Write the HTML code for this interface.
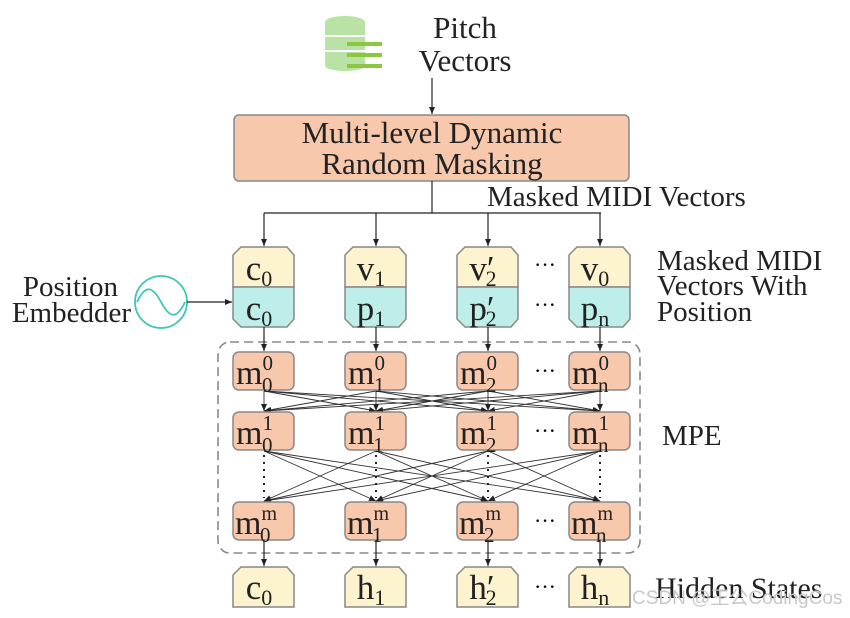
<!DOCTYPE html>
<html><head><meta charset="utf-8"><style>
html,body{margin:0;padding:0;background:#fff;}
svg{display:block;font-family:"Liberation Serif",serif;}
</style></head><body>
<svg width="850" height="618" viewBox="0 0 850 618" xmlns="http://www.w3.org/2000/svg">
<defs>
<marker id="a" markerWidth="8" markerHeight="8" refX="7" refY="4" orient="auto" markerUnits="userSpaceOnUse">
<path d="M0,1 L7,4 L0,7 z" fill="#222"/></marker>
</defs>
<g>
<ellipse cx="345" cy="22" rx="20" ry="6" fill="#b9e3a4"/>
<rect x="325" y="22" width="40" height="44" fill="#b9e3a4"/>
<ellipse cx="345" cy="66" rx="20" ry="5" fill="#b9e3a4"/>
<line x1="325" y1="36" x2="365" y2="36" stroke="#fff" stroke-width="2"/>
<line x1="325" y1="51" x2="365" y2="51" stroke="#fff" stroke-width="2"/>
<rect x="347" y="42" width="35" height="4" fill="#8dc63f"/>
<rect x="347" y="53" width="35" height="4" fill="#8dc63f"/>
<rect x="347" y="64" width="35" height="4" fill="#8dc63f"/>
</g>
<text x="465" y="38" font-size="31" text-anchor="middle" fill="#222">Pitch</text>
<text x="465" y="71" font-size="31" text-anchor="middle" fill="#222">Vectors</text>
<line x1="432" y1="78" x2="432" y2="114" stroke="#222" stroke-width="1.2" marker-end="url(#a)"/>
<rect x="234" y="115" width="395" height="66" rx="5" fill="#f8c8ad" stroke="#888" stroke-width="1.5"/>
<text x="432" y="143" font-size="31" text-anchor="middle" fill="#222">Multi-level Dynamic</text>
<text x="432" y="174" font-size="31" text-anchor="middle" fill="#222">Random Masking</text>
<line x1="432" y1="181" x2="432" y2="213" stroke="#222" stroke-width="1.2"/>
<line x1="264" y1="213" x2="601" y2="213" stroke="#222" stroke-width="1.2"/>
<text x="487" y="206" font-size="29" fill="#222">Masked MIDI Vectors</text>
<g stroke="#222" stroke-width="1.2" marker-end="url(#a)">
<line x1="264" y1="213" x2="264" y2="246"/><line x1="376" y1="213" x2="376" y2="246"/>
<line x1="488" y1="213" x2="488" y2="246"/><line x1="600" y1="213" x2="600" y2="246"/>
</g>
<g id="ib">
<path d="M241,247 L287,247 L294,255 L294,287 L233,287 L233,255 Z" fill="#fdf3cf" stroke="#888" stroke-width="1.5"/>
<path d="M233,287 L294,287 L294,319 L287,327 L241,327 L233,319 Z" fill="#bdeeea" stroke="#888" stroke-width="1.5"/>
</g>
<use href="#ib" x="112"/><use href="#ib" x="224"/><use href="#ib" x="336"/>
<g font-size="35" fill="#222" text-anchor="middle">
<text x="259" y="280">c<tspan font-size="22" dy="6">0</tspan></text>
<text x="259" y="320">c<tspan font-size="22" dy="6">0</tspan></text>
<text x="371" y="280">v<tspan font-size="22" dy="6">1</tspan></text>
<text x="371" y="320">p<tspan font-size="22" dy="6">1</tspan></text>
<text x="483" y="280">v′<tspan font-size="22" dy="6" dx="-9">2</tspan></text>
<text x="483" y="320">p′<tspan font-size="22" dy="6" dx="-9">2</tspan></text>
<text x="595" y="280">v<tspan font-size="22" dy="6">0</tspan></text>
<text x="595" y="320">p<tspan font-size="22" dy="6">n</tspan></text>
</g>
<text x="545" y="272" font-size="22" text-anchor="middle">···</text>
<text x="545" y="312" font-size="22" text-anchor="middle">···</text>
<text x="657" y="270" font-size="29" fill="#222">Masked MIDI</text>
<text x="657" y="295" font-size="29" fill="#222">Vectors With</text>
<text x="657" y="321" font-size="29" fill="#222">Position</text>
<text x="118" y="296" font-size="29" text-anchor="end" fill="#222">Position</text>
<text x="131" y="322" font-size="29" text-anchor="end" fill="#222">Embedder</text>
<circle cx="161" cy="302" r="26" fill="none" stroke="#3cc8b4" stroke-width="1.8"/>
<path d="M137,302 C145,285 152,285 161,302 C170,319 177,319 185,302" fill="none" stroke="#3cc8b4" stroke-width="1.8"/>
<line x1="187" y1="302" x2="232" y2="302" stroke="#222" stroke-width="1.2" marker-end="url(#a)"/>
<rect x="218" y="342" width="422" height="211" rx="12" fill="none" stroke="#888" stroke-width="1.6" stroke-dasharray="9,5"/>
<g stroke="#222" stroke-width="1.2" marker-end="url(#a)">
<line x1="264" y1="327" x2="264" y2="351"/><line x1="376" y1="327" x2="376" y2="351"/>
<line x1="488" y1="327" x2="488" y2="351"/><line x1="600" y1="327" x2="600" y2="351"/>
</g>
<g stroke="#333" stroke-width="0.9" marker-end="url(#a)">
<line x1="264" y1="391" x2="264" y2="411"/><line x1="264" y1="391" x2="376" y2="411"/><line x1="264" y1="391" x2="488" y2="411"/><line x1="264" y1="391" x2="600" y2="411"/>
<line x1="376" y1="391" x2="264" y2="411"/><line x1="376" y1="391" x2="376" y2="411"/><line x1="376" y1="391" x2="488" y2="411"/><line x1="376" y1="391" x2="600" y2="411"/>
<line x1="488" y1="391" x2="264" y2="411"/><line x1="488" y1="391" x2="376" y2="411"/><line x1="488" y1="391" x2="488" y2="411"/><line x1="488" y1="391" x2="600" y2="411"/>
<line x1="600" y1="391" x2="264" y2="411"/><line x1="600" y1="391" x2="376" y2="411"/><line x1="600" y1="391" x2="488" y2="411"/><line x1="600" y1="391" x2="600" y2="411"/>
</g>
<g stroke="#333" stroke-width="0.9" marker-end="url(#a)">
<line x1="264" y1="451" x2="376" y2="501"/><line x1="264" y1="451" x2="488" y2="501"/><line x1="264" y1="451" x2="600" y2="501"/>
<line x1="376" y1="451" x2="264" y2="501"/><line x1="376" y1="451" x2="488" y2="501"/><line x1="376" y1="451" x2="600" y2="501"/>
<line x1="488" y1="451" x2="264" y2="501"/><line x1="488" y1="451" x2="376" y2="501"/><line x1="488" y1="451" x2="600" y2="501"/>
<line x1="600" y1="451" x2="264" y2="501"/><line x1="600" y1="451" x2="376" y2="501"/><line x1="600" y1="451" x2="488" y2="501"/>
</g>
<g stroke="#222" stroke-width="2" stroke-dasharray="2,5">
<line x1="264" y1="455" x2="264" y2="498"/><line x1="376" y1="455" x2="376" y2="498"/>
<line x1="488" y1="455" x2="488" y2="498"/><line x1="600" y1="455" x2="600" y2="498"/>
</g>
<g fill="#f8c8ad" stroke="#888" stroke-width="1.5">
<rect x="233" y="352" width="61" height="38" rx="6"/><rect x="345" y="352" width="61" height="38" rx="6"/>
<rect x="457" y="352" width="61" height="38" rx="6"/><rect x="569" y="352" width="61" height="38" rx="6"/>
<rect x="233" y="412" width="61" height="38" rx="6"/><rect x="345" y="412" width="61" height="38" rx="6"/>
<rect x="457" y="412" width="61" height="38" rx="6"/><rect x="569" y="412" width="61" height="38" rx="6"/>
<rect x="233" y="502" width="61" height="38" rx="6"/><rect x="345" y="502" width="61" height="38" rx="6"/>
<rect x="457" y="502" width="61" height="38" rx="6"/><rect x="569" y="502" width="61" height="38" rx="6"/>
</g>
<g font-size="34" fill="#222">
<text x="236" y="384">m<tspan font-size="21" dx="0" dy="-14">0</tspan><tspan font-size="21" dx="-11" dy="22">0</tspan></text>
<text x="348" y="384">m<tspan font-size="21" dx="0" dy="-14">0</tspan><tspan font-size="21" dx="-11" dy="22">1</tspan></text>
<text x="460" y="384">m<tspan font-size="21" dx="0" dy="-14">0</tspan><tspan font-size="21" dx="-11" dy="22">2</tspan></text>
<text x="572" y="384">m<tspan font-size="21" dx="0" dy="-14">0</tspan><tspan font-size="21" dx="-11" dy="22">n</tspan></text>
<text x="236" y="444">m<tspan font-size="21" dx="0" dy="-14">1</tspan><tspan font-size="21" dx="-11" dy="22">0</tspan></text>
<text x="348" y="444">m<tspan font-size="21" dx="0" dy="-14">1</tspan><tspan font-size="21" dx="-11" dy="22">1</tspan></text>
<text x="460" y="444">m<tspan font-size="21" dx="0" dy="-14">1</tspan><tspan font-size="21" dx="-11" dy="22">2</tspan></text>
<text x="572" y="444">m<tspan font-size="21" dx="0" dy="-14">1</tspan><tspan font-size="21" dx="-11" dy="22">n</tspan></text>
<text x="235" y="534">m<tspan font-size="20" dx="0" dy="-14">m</tspan><tspan font-size="21" dx="-17" dy="22">0</tspan></text>
<text x="347" y="534">m<tspan font-size="20" dx="0" dy="-14">m</tspan><tspan font-size="21" dx="-17" dy="22">1</tspan></text>
<text x="459" y="534">m<tspan font-size="20" dx="0" dy="-14">m</tspan><tspan font-size="21" dx="-17" dy="22">2</tspan></text>
<text x="571" y="534">m<tspan font-size="20" dx="0" dy="-14">m</tspan><tspan font-size="21" dx="-17" dy="22">n</tspan></text>
</g>
<g font-size="22" text-anchor="middle">
<text x="545" y="378">···</text><text x="545" y="438">···</text><text x="545" y="528">···</text><text x="545" y="594">···</text>
</g>
<text x="662" y="445" font-size="29" fill="#222">MPE</text>
<g stroke="#222" stroke-width="1.2" marker-end="url(#a)">
<line x1="264" y1="540" x2="264" y2="566"/><line x1="376" y1="540" x2="376" y2="566"/>
<line x1="488" y1="540" x2="488" y2="566"/><line x1="600" y1="540" x2="600" y2="566"/>
</g>
<g id="ob"><path d="M241,567 L287,567 L294,575 L294,607 L233,607 L233,575 Z" fill="#fdf3cf" stroke="#888" stroke-width="1.5"/></g>
<use href="#ob" x="112"/><use href="#ob" x="224"/><use href="#ob" x="336"/>
<g font-size="35" fill="#222" text-anchor="middle">
<text x="259" y="599">c<tspan font-size="22" dy="6">0</tspan></text>
<text x="371" y="599">h<tspan font-size="22" dy="6">1</tspan></text>
<text x="483" y="599">h′<tspan font-size="22" dy="6" dx="-9">2</tspan></text>
<text x="595" y="599">h<tspan font-size="22" dy="6">n</tspan></text>
</g>
<text x="655" y="598" font-size="30" fill="#222">Hidden States</text>
<text x="632" y="604" font-size="19" fill="#c8c8c8" font-family="Liberation Sans,'Noto Sans CJK SC',sans-serif">CSDN @王公CodingCos</text>
</svg>
</body></html>
